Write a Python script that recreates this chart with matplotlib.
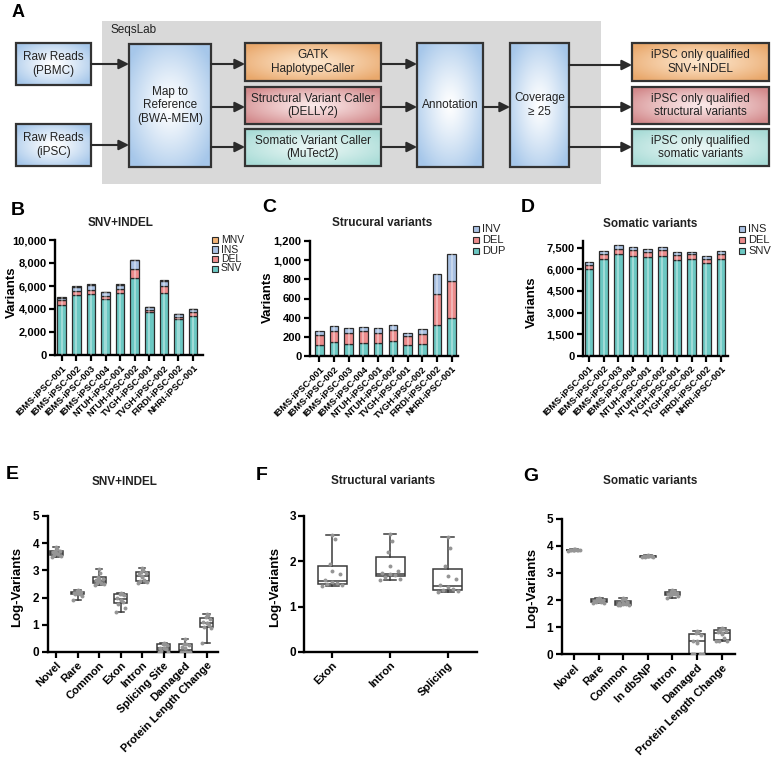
import numpy as np
import matplotlib
matplotlib.use("Agg")
import matplotlib.pyplot as plt
from matplotlib.patches import Rectangle
from matplotlib.colors import to_rgb
from matplotlib.ticker import FuncFormatter

plt.rcParams['font.family'] = ['Liberation Sans', 'DejaVu Sans']

# ---------------- data ----------------
samples = ["IBMS-iPSC-001", "IBMS-iPSC-002", "IBMS-iPSC-003", "IBMS-iPSC-004",
           "NTUH-iPSC-001", "NTUH-iPSC-002", "TVGH-iPSC-001", "TVGH-iPSC-002",
           "FIRDI-iPSC-002", "NHRI-iPSC-001"]

# B: SNV+INDEL
snv_b = [4350, 5220, 5280, 4840, 5360, 6720, 3710, 5390, 3130, 3390]
del_b = [400, 350, 370, 290, 350, 760, 200, 580, 200, 350]
ins_b = [230, 370, 460, 320, 400, 740, 230, 490, 210, 230]
mnv_b = [30, 30, 30, 30, 30, 40, 30, 30, 30, 30]

# C: structural variants
dup_c = [114, 142, 121, 135, 132, 152, 111, 128, 326, 399]
del_c = [104, 118, 115, 121, 104, 122, 93, 101, 319, 384]
inv_c = [42, 52, 52, 49, 52, 48, 35, 52, 211, 277]

# D: somatic variants
snv_d = [6040, 6740, 7080, 6940, 6850, 6940, 6640, 6690, 6440, 6710]
del_d = [280, 300, 330, 370, 330, 370, 330, 350, 300, 330]
ins_d = [185, 230, 250, 210, 250, 260, 210, 180, 180, 230]

# E: SNV+INDEL annotation (log10 counts per line)
e_cats = ["Novel", "Rare", "Common", "Exon", "Intron", "Splicing Site", "Damaged",
          "Protein Length Change"]
e_novel = [3.48, 3.53, 3.56, 3.60, 3.63, 3.67, 3.70, 3.73, 3.80, 3.87]
e_rare = [1.91, 2.05, 2.12, 2.14, 2.16, 2.18, 2.20, 2.23, 2.25, 2.27]
e_common = [2.47, 2.50, 2.52, 2.55, 2.60, 2.64, 2.70, 2.77, 2.90, 3.05]
e_exon = [1.46, 1.62, 1.78, 1.82, 1.90, 2.00, 2.10, 2.14, 2.15, 2.17]
e_intron = [2.55, 2.58, 2.60, 2.65, 2.75, 2.85, 2.90, 2.95, 3.02, 3.10]
e_splice = [0.00, 0.00, 0.05, 0.10, 0.15, 0.15, 0.25, 0.30, 0.30, 0.32]
e_damaged = [0.00, 0.00, 0.00, 0.00, 0.00, 0.18, 0.25, 0.30, 0.30, 0.48]
e_plc = [0.32, 0.90, 0.92, 0.98, 1.05, 1.10, 1.20, 1.28, 1.35, 1.40]

# F: structural variant annotation
f_cats = ["Exon", "Intron", "Splicing"]
f_exon = [1.46, 1.48, 1.49, 1.52, 1.54, 1.58, 1.72, 1.95, 2.50, 2.57]
f_intron = [1.59, 1.62, 1.66, 1.69, 1.72, 1.74, 1.78, 2.20, 2.45, 2.60]
f_splice = [1.32, 1.34, 1.36, 1.38, 1.44, 1.48, 1.60, 1.90, 2.30, 2.54]

# G: somatic variant annotation
g_cats = ["Novel", "Rare", "Common", "In dbSNP", "Intron", "Damaged",
          "Protein Length Change"]
g_novel = [3.82, 3.83, 3.84, 3.84, 3.85, 3.85, 3.86, 3.86, 3.87, 3.88]
g_rare = [1.88, 1.90, 1.92, 1.94, 1.96, 1.98, 2.00, 2.03, 2.05, 2.06]
g_common = [1.80, 1.81, 1.82, 1.84, 1.87, 1.89, 1.93, 2.00, 2.03, 2.06]
g_dbsnp = [3.59, 3.60, 3.60, 3.61, 3.62, 3.62, 3.63, 3.63, 3.64, 3.65]
g_intron = [2.09, 2.15, 2.19, 2.21, 2.22, 2.24, 2.26, 2.29, 2.33, 2.38]
g_damaged = [0.00, 0.00, 0.00, 0.00, 0.48, 0.50, 0.70, 0.78, 0.84, 0.86]
g_plc = [0.48, 0.50, 0.50, 0.60, 0.78, 0.82, 0.85, 0.90, 0.95, 0.98]

# ---------------- style ----------------
C_SNV = "#6cc8c3"
C_DEL = "#ec8c8c"
C_INS = "#a9c1e3"
C_MNV = "#f2b477"
EDGE = "#2a2a2a"

W, H = 778, 760
fig = plt.figure(figsize=(W / 100, H / 100), dpi=100)


def add_ax(l, t, r, b):
    return fig.add_axes([l / W, 1 - b / H, (r - l) / W, (b - t) / H])


def ftext(x, y, s, **kw):
    return fig.text(x / W, 1 - y / H, s, **kw)


def style_axes(ax, ylabel_fs=8):
    for s in ["top", "right"]:
        ax.spines[s].set_visible(False)
    for s in ["left", "bottom"]:
        ax.spines[s].set_linewidth(1.7)
        ax.spines[s].set_color("black")
    ax.tick_params(axis="both", width=1.6, length=4.5, color="black", pad=1.5)
    ax.tick_params(axis="y", labelsize=ylabel_fs)
    for lbl in ax.get_yticklabels():
        lbl.set_fontweight("bold")
    ax.set_facecolor("none")


# ---------------- Panel A: flowchart ----------------
axA = fig.add_axes([0, 1 - 190 / H, 1, 190 / H])
axA.set_xlim(0, W)
axA.set_ylim(190, 0)
axA.axis("off")

axA.add_patch(Rectangle((102, 21), 499, 163, facecolor="#d9d9d9", edgecolor="none", zorder=0))
axA.text(111, 30, "SeqsLab", fontsize=8.5, color="#222", va="center", ha="left")


def grad_box(x0, y0, x1, y1, edge_col, center_col, text, fs=8.5):
    n = 80
    xx, yy = np.meshgrid(np.linspace(-1, 1, n), np.linspace(-1, 1, n))
    r = np.clip(np.sqrt(xx ** 2 + yy ** 2) / 1.25, 0, 1) ** 1.2
    c0 = np.array(to_rgb(center_col))
    c1 = np.array(to_rgb(edge_col))
    img = c0[None, None, :] * (1 - r[..., None]) + c1[None, None, :] * r[..., None]
    axA.imshow(img, extent=(x0, x1, y1, y0), aspect="auto", zorder=2,
               interpolation="bilinear")
    axA.add_patch(Rectangle((x0, y0), x1 - x0, y1 - y0, fill=False, edgecolor="#333333",
                            linewidth=1.6, zorder=3))
    axA.text((x0 + x1) / 2, (y0 + y1) / 2, text, ha="center", va="center", fontsize=fs,
             color="#222222", linespacing=1.2, zorder=4)


BLUE = ("#a6c7ea", "#ffffff")
ORANGE = ("#e9a86c", "#fde6cc")
RED = ("#d38a8c", "#fbeaea")
TEAL = ("#a9dcd7", "#eaf7f5")

grad_box(16, 43, 91, 85, *BLUE, "Raw Reads\n(PBMC)")
grad_box(16, 124, 91, 166, *BLUE, "Raw Reads\n(iPSC)")
grad_box(129, 44, 211, 167, *BLUE, "Map to\nReference\n(BWA-MEM)")
grad_box(245, 43, 381, 81, *ORANGE, "GATK\nHaplotypeCaller")
grad_box(245, 87, 381, 124, *RED, "Structural Variant Caller\n(DELLY2)")
grad_box(245, 129, 381, 166, *TEAL, "Somatic Variant Caller\n(MuTect2)")
grad_box(417, 43, 483, 167, *BLUE, "Annotation")
grad_box(510, 43, 569, 167, *BLUE, "Coverage\n\u2265 25")
grad_box(632, 43, 769, 81, *ORANGE, "iPSC only qualified\nSNV+INDEL")
grad_box(632, 87, 769, 124, *RED, "iPSC only qualified\nstructural variants")
grad_box(632, 129, 769, 166, *TEAL, "iPSC only qualified\nsomatic variants")


def arrow(x0, x1, y):
    axA.annotate("", xy=(x1, y), xytext=(x0, y),
                 arrowprops=dict(arrowstyle="-|>,head_length=0.6,head_width=0.3",
                                 color="#2b2b2b", lw=1.5, shrinkA=0, shrinkB=0),
                 zorder=5)


arrow(91, 129, 64)
arrow(91, 129, 145)
arrow(211, 245, 64)
arrow(211, 245, 107)
arrow(211, 245, 147)
arrow(381, 417, 64)
arrow(381, 417, 107)
arrow(381, 417, 147)
arrow(483, 510, 107)
arrow(569, 632, 65)
arrow(569, 632, 107)
arrow(569, 632, 147)


# ---------------- bar panels ----------------
def stacked(ax, layers, colors):
    x = np.arange(len(samples))
    bottom = np.zeros(len(samples))
    for vals, c in zip(layers, colors):
        vals = np.asarray(vals, dtype=float)
        ax.bar(x, vals, 0.58, bottom=bottom, color=c, edgecolor=EDGE, linewidth=0.9, zorder=2)
        ax.bar(x, vals, 0.14, bottom=bottom, color="white", alpha=0.35, linewidth=0, zorder=3)
        bottom += vals
    ax.set_xticks(x)
    ax.set_xticklabels(samples, rotation=45, ha="right", rotation_mode="anchor",
                       fontsize=6.7, fontweight="bold")


comma = FuncFormatter(lambda v, p: f"{v:,.0f}")


def legend(x, ys, labels, colors, fs=7.5):
    for y, lab, c in zip(ys, labels, colors):
        fig.patches.append(Rectangle((x / W, 1 - (y + 3) / H), 6 / W, 6 / H,
                                     transform=fig.transFigure, facecolor=c,
                                     edgecolor=EDGE, linewidth=0.8))
        ftext(x + 9, y, lab, fontsize=fs, va="center", ha="left", color="#222")


# B
axB = add_ax(55, 240, 203, 355)
stacked(axB, [snv_b, del_b, ins_b, mnv_b], [C_SNV, C_DEL, C_INS, C_MNV])
axB.set_xlim(-0.46, 9.68)
axB.set_ylim(0, 10000)
axB.set_yticks([0, 2000, 4000, 6000, 8000, 10000])
axB.yaxis.set_major_formatter(comma)
style_axes(axB)
legend(212, [240, 249.5, 259, 268.5], ["MNV", "INS", "DEL", "SNV"],
       [C_MNV, C_INS, C_DEL, C_SNV], fs=7.5)
ftext(121, 223, "SNV+INDEL", fontsize=8.5, fontweight="bold", ha="center", va="center",
      color="#222")
ftext(12, 292, "Variants", fontsize=9.5, fontweight="bold", rotation=90, ha="center",
      va="center")

# C
axC = add_ax(310, 241, 458, 356)
stacked(axC, [dup_c, del_c, inv_c], [C_SNV, C_DEL, C_INS])
axC.set_xlim(-0.63, 9.43)
axC.set_ylim(0, 1200)
axC.set_yticks([0, 200, 400, 600, 800, 1000, 1200])
axC.yaxis.set_major_formatter(comma)
style_axes(axC)
legend(473, [229, 240, 251], ["INV", "DEL", "DUP"], [C_INS, C_DEL, C_SNV], fs=8)
ftext(382, 223, "Strucural variants", fontsize=8.5, fontweight="bold", ha="center",
      va="center", color="#222")
ftext(268, 297, "Variants", fontsize=9.5, fontweight="bold", rotation=90, ha="center",
      va="center")

# D
axD = add_ax(583, 240.5, 728, 355.7)
stacked(axD, [snv_d, del_d, ins_d], [C_SNV, C_DEL, C_INS])
axD.set_xlim(-0.41, 9.48)
axD.set_ylim(0, 8000)
axD.set_yticks([0, 1500, 3000, 4500, 6000, 7500])
axD.yaxis.set_major_formatter(comma)
style_axes(axD)
legend(739, [229, 240, 251], ["INS", "DEL", "SNV"], [C_INS, C_DEL, C_SNV], fs=8)
ftext(650, 224, "Somatic variants", fontsize=8.5, fontweight="bold", ha="center",
      va="center", color="#222")
ftext(532, 302, "Variants", fontsize=9.5, fontweight="bold", rotation=90, ha="center",
      va="center")

# ---------------- box panels ----------------
offs = np.array([-0.5, 0.5, -0.25, 0.25, 0.0, -0.38, 0.38, -0.12, 0.12, 0.0])


def boxpanel(ax, cats, groups, width, capw):
    pos = np.arange(len(cats))
    lp = dict(color="#3a3a3a", linewidth=1.1)
    ax.boxplot(groups, positions=pos, widths=width, whis=(0, 100), showfliers=False,
               patch_artist=True, capwidths=capw,
               boxprops=dict(facecolor="white", edgecolor="#3a3a3a", linewidth=1.1),
               medianprops=lp, whiskerprops=lp, capprops=lp, zorder=2)
    for p, g in zip(pos, groups):
        ax.scatter(p + offs * width * 0.7, g, s=8, color="#959595", zorder=3,
                   linewidths=0)
        ax.scatter([p], [np.mean(g)], s=8, color="#959595", zorder=3, linewidths=0)
    ax.set_xticks(pos)
    ax.set_xticklabels(cats, rotation=45, ha="right", rotation_mode="anchor",
                       fontsize=8, fontweight="bold")


# E
axE = add_ax(47.7, 516, 218, 652)
boxpanel(axE, e_cats, [e_novel, e_rare, e_common, e_exon, e_intron, e_splice, e_damaged,
                       e_plc], 0.6, 0.3)
axE.set_xlim(-0.39, 7.53)
axE.set_ylim(0, 5)
axE.set_yticks([0, 1, 2, 3, 4, 5])
style_axes(axE, ylabel_fs=8.5)
ftext(125, 482, "SNV+INDEL", fontsize=8.5, fontweight="bold", ha="center", va="center",
      color="#222")
ftext(17, 587, "Log-Variants", fontsize=9.5, fontweight="bold", rotation=90, ha="center",
      va="center")

# F
axF = add_ax(304.3, 516, 476.7, 652)
boxpanel(axF, f_cats, [f_exon, f_intron, f_splice], 0.5, 0.22)
axF.set_xlim(-0.485, 2.5)
axF.set_ylim(0, 3)
axF.set_yticks([0, 1, 2, 3])
style_axes(axF, ylabel_fs=8.5)
ftext(383, 481, "Structural variants", fontsize=8.5, fontweight="bold", ha="center",
      va="center", color="#222")
ftext(275, 587, "Log-Variants", fontsize=9.5, fontweight="bold", rotation=90, ha="center",
      va="center")

# G
axG = add_ax(561.7, 518.7, 735, 654.3)
boxpanel(axG, g_cats, [g_novel, g_rare, g_common, g_dbsnp, g_intron, g_damaged, g_plc],
         0.64, 0.32)
axG.set_xlim(-0.5, 6.54)
axG.set_ylim(0, 5)
axG.set_yticks([0, 1, 2, 3, 4, 5])
style_axes(axG, ylabel_fs=8.5)
ftext(650, 481, "Somatic variants", fontsize=8.5, fontweight="bold", ha="center",
      va="center", color="#222")
ftext(532, 588, "Log-Variants", fontsize=9.5, fontweight="bold", rotation=90, ha="center",
      va="center")

# ---------------- panel letters ----------------
for lab, x, y, fs in [("A", 18.5, 12.5, 13), ("B", 18, 210, 14), ("C", 269, 207.5, 14),
                      ("D", 528, 208, 14), ("E", 12.5, 474.5, 14), ("F", 262, 476, 14),
                      ("G", 531, 476.5, 14)]:
    ftext(x, y, lab, fontsize=fs, fontweight="bold", ha="center", va="center")

fig.savefig("out.png", dpi=100)
